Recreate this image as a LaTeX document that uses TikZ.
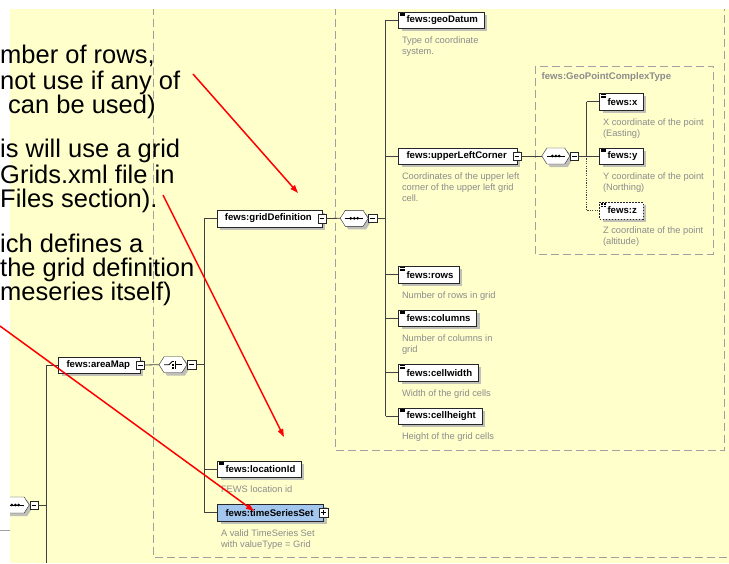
\documentclass[tikz,border=0pt]{standalone}
\usepackage{fontspec}
\setmainfont{Liberation Sans}
\usepackage{tikz}
\usetikzlibrary{positioning,arrows.meta,shapes.symbols,shadows}
\definecolor{paper}{HTML}{FFFFCC}
\definecolor{boxline}{HTML}{A0A0A0}
\definecolor{treeline}{HTML}{404040}
\definecolor{descgray}{HTML}{8C8C8C}
\definecolor{setblue}{HTML}{A3C6EE}
\definecolor{shade}{HTML}{C0C0B8}
\newcommand{\elemfont}{\bfseries\fontsize{9.6}{10}\selectfont}
\newcommand{\descfont}{\fontsize{9.3}{11}\selectfont}
\newcommand{\notefont}{\fontsize{25.5}{25}\selectfont}

\tikzset{
  elem/.style={draw=black!85, fill=white, font=\elemfont, anchor=west,
    inner xsep=6pt, inner ysep=0pt, minimum height=16.5pt,
    execute at begin node={\hspace*{2pt}},
    drop shadow={shadow xshift=3pt, shadow yshift=-3pt, fill=shade, opacity=1}},
  simple/.style={elem, path picture={
    \foreach \k in {1.2,2.4,3.6}
      \draw[black,line width=0.45pt] ([shift={(1.7pt,-\k pt)}]path picture bounding box.north west) -- ++(4.6pt,0pt);}},
  expander/.style={execute at end node={\hspace*{4pt}}},
  optelem/.style={dash pattern=on 1.5pt off 1.5pt},
  desc/.style={font=\descfont, text=descgray, anchor=north west, align=left, inner sep=0pt},
  typelabel/.style={font=\elemfont, text=descgray, anchor=west, inner sep=0pt},
  compositor/.style={signal, signal to=east and west, signal pointer angle=115,
    draw=black!85, fill=white, minimum width=28pt, minimum height=16pt, inner sep=0pt,
    drop shadow={shadow xshift=3pt, shadow yshift=-3pt, fill=shade, opacity=1}},
  seq/.style={compositor, path picture={
    \draw[black,line width=0.8pt] ([xshift=5pt]path picture bounding box.west) -- ([xshift=-5pt]path picture bounding box.east);
    \foreach \k in {-3.4,0,3.4}
      \fill[black] ([xshift=\k pt]path picture bounding box.center) circle (1.5pt);}},
  choice/.style={compositor, path picture={
    \draw[black,line width=0.8pt] ([xshift=5pt]path picture bounding box.west) -- ([xshift=-4pt]path picture bounding box.center)
      -- ([shift={(-0.5pt,3.5pt)}]path picture bounding box.center);
    \draw[black,line width=0.8pt] ([shift={(2.5pt,4pt)}]path picture bounding box.center) -- ([shift={(2.5pt,-4pt)}]path picture bounding box.center);
    \draw[black,line width=0.8pt] ([xshift=2.5pt]path picture bounding box.center) -- ([xshift=-5pt]path picture bounding box.east);
    \foreach \k in {-3.9,-0.8,2.3}
      \fill[black] ([shift={(-0.6pt,\k pt)}]path picture bounding box.center) rectangle ++(2pt,1.6pt);}},
  minusbox/.style={draw=black!85, fill=white, minimum size=8.4pt, inner sep=0pt, path picture={
    \draw[black,line width=0.6pt] ([xshift=1.8pt]path picture bounding box.west) -- ([xshift=-1.8pt]path picture bounding box.east);}},
  plusbox/.style={draw=black!85, fill=white, minimum size=8.4pt, inner sep=0pt, path picture={
    \draw[black,line width=0.6pt] ([xshift=1.8pt]path picture bounding box.west) -- ([xshift=-1.8pt]path picture bounding box.east);
    \draw[black,line width=0.6pt] ([yshift=1.8pt]path picture bounding box.south) -- ([yshift=-1.8pt]path picture bounding box.north);}},
  tree/.style={draw=treeline, line width=0.8pt},
  optline/.style={dash pattern=on 1.2pt off 1.2pt},
  frame/.style={draw=boxline, line width=0.9pt, dash pattern=on 8pt off 4pt},
  note/.style={font=\notefont, anchor=base west, inner sep=0pt},
  pointer/.style={draw=red, line width=1.5pt, -{Triangle[length=8pt,width=5.5pt]}}
}

\begin{document}
\begin{tikzpicture}[x=1pt,y=-1pt]
  \useasboundingbox (0,0) rectangle (729,563);
  \fill[paper] (0,0) rectangle (729,563);

  % dashed content frames
  \draw[frame] (153.3,-5) rectangle (745,557);
  \draw[frame] (335,-5) rectangle (724.5,450);
  \draw[frame] (535.7,66) rectangle (713.3,254.3);
  \node[typelabel] (geoType) at (541.5,77) {fews:GeoPointComplexType};

  % elements
  \node[elem,expander] (areaMap) at (58.3,365) {fews:areaMap};
  \node[elem,expander] (gridDefinition) at (216.7,218.5) {fews:gridDefinition};
  \node[simple] (locationId) at (217.3,469) {fews:locationId};
  \node[elem,expander,fill=setblue] (timeSeriesSet) at (217.3,512.7) {fews:timeSeriesSet};
  \node[simple] (geoDatum) at (398.3,20) {fews:geoDatum};
  \node[elem,expander] (upperLeftCorner) at (398.3,156) {fews:upperLeftCorner};
  \node[simple] (rows) at (398.3,274.7) {fews:rows};
  \node[simple] (columns) at (398.3,318) {fews:columns};
  \node[simple] (cellwidth) at (398.3,372.7) {fews:cellwidth};
  \node[simple] (cellheight) at (398.3,416) {fews:cellheight};
  \node[simple] (pointX) at (599.3,101.7) {fews:x};
  \node[simple] (pointY) at (599.3,156) {fews:y};
  \node[simple,optelem] (pointZ) at (599.3,210.5) {fews:z};

  % descriptions
  \node[desc] (locationIdDesc) at ([shift={(3.5pt,-8pt)}]locationId.south west) {FEWS location id};
  \node[desc] (timeSeriesSetDesc) at ([shift={(3.5pt,-8pt)}]timeSeriesSet.south west) {A valid TimeSeries Set\\with valueType = Grid};
  \node[desc] (geoDatumDesc) at ([shift={(3.5pt,-8pt)}]geoDatum.south west) {Type of coordinate\\system.};
  \node[desc] (upperLeftCornerDesc) at ([shift={(3.5pt,-8pt)}]upperLeftCorner.south west) {Coordinates of the upper left\\corner of the upper left grid\\cell.};
  \node[desc] (rowsDesc) at ([shift={(3.5pt,-8pt)}]rows.south west) {Number of rows in grid};
  \node[desc] (columnsDesc) at ([shift={(3.5pt,-8pt)}]columns.south west) {Number of columns in\\grid};
  \node[desc] (cellwidthDesc) at ([shift={(3.5pt,-8pt)}]cellwidth.south west) {Width of the grid cells};
  \node[desc] (cellheightDesc) at ([shift={(3.5pt,-8pt)}]cellheight.south west) {Height of the grid cells};
  \node[desc] (pointXDesc) at ([shift={(3.5pt,-8pt)}]pointX.south west) {X coordinate of the point\\(Easting)};
  \node[desc] (pointYDesc) at ([shift={(3.5pt,-8pt)}]pointY.south west) {Y coordinate of the point\\(Northing)};
  \node[desc] (pointZDesc) at ([shift={(3.5pt,-8pt)}]pointZ.south west) {Z coordinate of the point\\(altitude)};

  % expand buttons
  \node[minusbox] (areaMapX) at (areaMap.east) {};
  \node[minusbox] (gridDefinitionX) at (gridDefinition.east) {};
  \node[plusbox] (timeSeriesSetX) at (timeSeriesSet.east) {};
  \node[minusbox] (upperLeftCornerX) at (upperLeftCorner.east) {};

  % compositors
  \node[seq] (seqRoot) at (15.3,505) {};
  \node[minusbox,anchor=west] (seqRootX) at (seqRoot.east) {};
  \node[choice] (choiceMap) at (173,364.7) {};
  \node[minusbox,anchor=west] (choiceMapX) at (choiceMap.east) {};
  \node[seq] (seqGrid) at (354.2,218.3) {};
  \node[minusbox,anchor=west] (seqGridX) at (seqGrid.east) {};
  \node[seq] (seqCorner) at (555.8,156) {};
  \node[minusbox,anchor=west] (seqCornerX) at (seqCorner.east) {};

  % tree lines
  \coordinate (trunkRoot) at (46,563);
  \coordinate (trunkMap) at (204.3,0);
  \coordinate (trunkGrid) at (385.7,0);
  \coordinate (trunkCorner) at (586.7,0);
  \draw[tree] (seqRootX.east) -- (seqRootX.east -| trunkRoot);
  \draw[tree] (areaMap.west -| trunkRoot) -- (trunkRoot);
  \draw[tree] (areaMap.west -| trunkRoot) -- (areaMap.west);
  \draw[tree] (areaMapX.east) -- (choiceMap.west);
  \draw[tree] (choiceMapX.east) -- (choiceMapX.east -| trunkMap);
  \draw[tree] (gridDefinition.west -| trunkMap) -- (timeSeriesSet.west -| trunkMap);
  \foreach \n in {gridDefinition,locationId,timeSeriesSet}
    \draw[tree] (\n.west -| trunkMap) -- (\n.west);
  \draw[tree] (gridDefinitionX.east) -- (seqGrid.west);
  \draw[tree] (seqGridX.east) -- (seqGridX.east -| trunkGrid);
  \draw[tree] (geoDatum.west -| trunkGrid) -- (cellheight.west -| trunkGrid);
  \foreach \n in {geoDatum,upperLeftCorner,rows,columns,cellwidth,cellheight}
    \draw[tree] (\n.west -| trunkGrid) -- (\n.west);
  \draw[tree] (upperLeftCornerX.east) -- (seqCorner.west);
  \draw[tree] (seqCornerX.east) -- (seqCornerX.east -| trunkCorner);
  \draw[tree] (pointX.west -| trunkCorner) -- (pointY.west -| trunkCorner);
  \foreach \n in {pointX,pointY}
    \draw[tree] (\n.west -| trunkCorner) -- (\n.west);
  \draw[tree,optline] (pointY.west -| trunkCorner) -- (pointZ.west -| trunkCorner) -- (pointZ.west);

  % window edges
  \fill[white] (0,0) rectangle (729,9);
  \fill[white] (0,0) rectangle (10,563);
  \draw[boxline,line width=1pt] (0,530) -- (10,530);

  % overlaid notes
  \node[note] (noteRows1) at (0,63) {mber of rows,};
  \node[note] (noteRows2) at (0,89) {not use if any of};
  \node[note] (noteRows3) at (8,113) {can be used)};
  \node[note] (noteGrids1) at (0,157) {is will use a grid};
  \node[note] (noteGrids2) at (0,183) {Grids.xml file in};
  \node[note] (noteGrids3) at (0,207) {Files section).};
  \node[note] (noteSet1) at (0,252) {ich defines a};
  \node[note] (noteSet2) at (0,276) {the grid definition};
  \node[note] (noteSet3) at (0,300) {meseries itself)};

  % red pointers
  \coordinate (fromRows) at (193,74);
  \coordinate (toRows) at (298,193);
  \coordinate (fromGrids) at (163,195);
  \coordinate (toGrids) at (284,437);
  \coordinate (fromSet) at (0,326);
  \coordinate (toSet) at (254,511);
  \draw[pointer] (fromRows) -- (toRows);
  \draw[pointer] (fromGrids) -- (toGrids);
  \draw[pointer] (fromSet) -- (toSet);
\end{tikzpicture}
\end{document}
